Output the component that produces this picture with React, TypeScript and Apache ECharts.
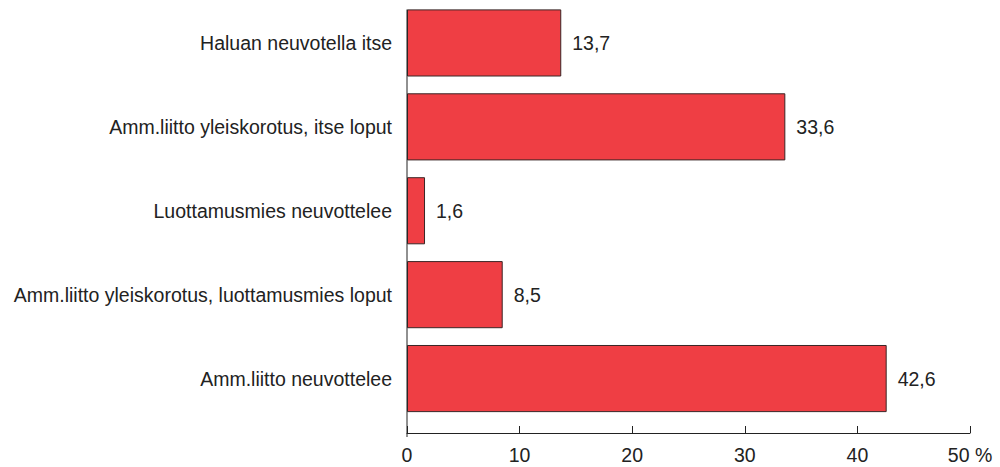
import React, { useEffect, useRef } from "react";
import * as echarts from "echarts";

const categories = [
  "Haluan neuvotella itse",
  "Amm.liitto yleiskorotus, itse loput",
  "Luottamusmies neuvottelee",
  "Amm.liitto yleiskorotus, luottamusmies loput",
  "Amm.liitto neuvottelee",
];
const values = [13.7, 33.6, 1.6, 8.5, 42.6];
const xTicks = [0, 10, 20, 30, 40, 50];

export default function App() {
  const ref = useRef<HTMLDivElement>(null);
  useEffect(() => {
    if (!ref.current) return;
    const chart = echarts.init(ref.current, null, { renderer: "svg" });
    const font = "'Liberation Sans', Arial, sans-serif";
    const fs = 19.5;
    chart.setOption({
      animation: false,
      grid: { left: 407, right: 30, top: 1, bottom: 46.5, containLabel: false },
      xAxis: {
        type: "value",
        min: 0,
        max: 50,
        interval: 10,
        offset: 12.5,
        axisLine: { show: true, lineStyle: { color: "#222", width: 1 } },
        axisTick: { show: true, inside: true, length: 7, lineStyle: { color: "#222" } },
        splitLine: { show: false },
        axisLabel: {
          margin: 12,
          fontSize: fs,
          fontFamily: font,
          color: "#222",
          formatter: (v: number) => (v === xTicks[xTicks.length - 1] ? v + " %" : String(v)),
        },
      },
      yAxis: {
        type: "category",
        data: categories,
        inverse: true,
        axisLine: { show: false },
        axisTick: { show: false },
        axisLabel: { margin: 15, fontSize: fs, fontFamily: font, color: "#222" },
      },
      graphic: [
        {
          type: "line",
          shape: { x1: 407, y1: 9.5, x2: 407, y2: 437 },
          style: { stroke: "#222", lineWidth: 1 },
          z: 10,
        },
      ],
      series: [
        {
          type: "bar",
          data: values,
          barCategoryGap: "20%",
          itemStyle: { color: "#EF3E44", borderColor: "#3a2626", borderWidth: 1 },
          label: {
            show: true,
            position: "right",
            distance: 11,
            fontSize: fs,
            fontFamily: font,
            color: "#222",
            formatter: (p: any) => String(p.value).replace(".", ","),
          },
        },
      ],
    });
    return () => chart.dispose();
  }, []);
  return <div ref={ref} style={{ width: 1000, height: 467, position: "absolute", left: 0, top: 0 }} />;
}
